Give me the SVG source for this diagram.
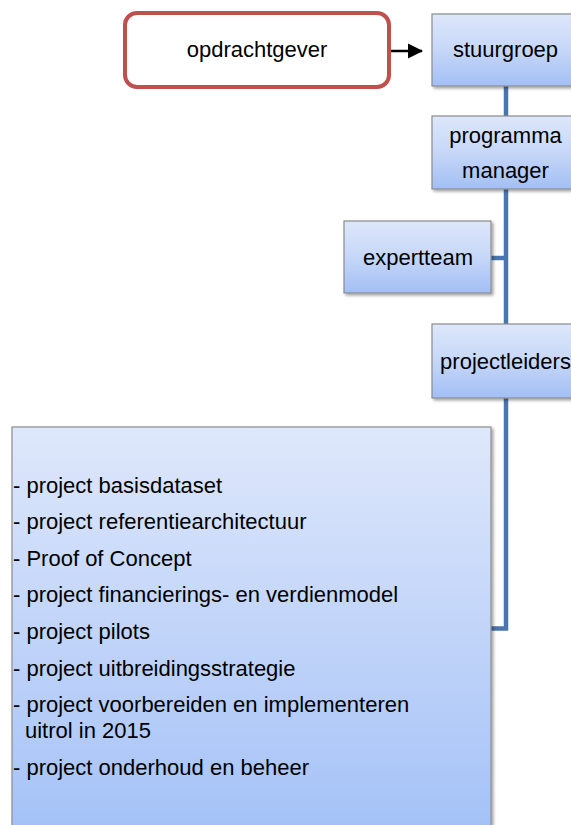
<svg xmlns="http://www.w3.org/2000/svg" width="571" height="825" viewBox="0 0 571 825">
<style>
text{font-family:"Liberation Sans",Arial,sans-serif;font-size:22px;fill:#000}
.c{text-anchor:middle}
.box{fill:url(#g);stroke:#8c8c8c;stroke-width:1.2;filter:url(#sh)}
.big{fill:url(#g2);stroke:#8c8c8c;stroke-width:1.2;filter:url(#sh)}
.con{fill:none;stroke:#4a76ad;stroke-width:4.5}
</style>
<defs>
<linearGradient id="g" x1="0" y1="0" x2="0" y2="1">
<stop offset="0" stop-color="#dde7fb"/>
<stop offset="0.5" stop-color="#c6d7f8"/>
<stop offset="1" stop-color="#a2bff5"/>
</linearGradient>
<linearGradient id="g2" gradientUnits="userSpaceOnUse" x1="0" y1="427" x2="0" y2="825">
<stop offset="0" stop-color="#dfe8fb"/>
<stop offset="1" stop-color="#a5c2f7"/>
</linearGradient>
<filter id="sh" x="-10%" y="-10%" width="130%" height="130%">
<feGaussianBlur in="SourceAlpha" stdDeviation="1.5"/>
<feOffset dx="2" dy="2" result="b"/>
<feComponentTransfer><feFuncA type="linear" slope="0.35"/></feComponentTransfer>
<feMerge><feMergeNode/><feMergeNode in="SourceGraphic"/></feMerge>
</filter>
<marker id="ah" markerWidth="16" markerHeight="16" refX="14" refY="8" orient="auto" markerUnits="userSpaceOnUse">
<path d="M0,0.5 L15,8 L0,15.5 z" fill="#000"/>
</marker>
</defs>
<g id="connectors">
<path class="con" d="M506,86 V628.5 H491"/>
<path class="con" d="M491,258 H506"/>
<line x1="391" y1="51" x2="422" y2="51" stroke="#000" stroke-width="2.5" marker-end="url(#ah)"/>
</g>
<g id="opdrachtgever">
<rect x="125" y="13" width="264" height="74" rx="12" ry="12" fill="#fff" stroke="#c0504d" stroke-width="4"/>
<text class="c" x="257" y="57">opdrachtgever</text>
</g>
<g id="stuurgroep">
<rect class="box" x="432" y="14" width="150" height="72"/>
<text class="c" x="505.5" y="57">stuurgroep</text>
</g>
<g id="programmamanager">
<rect class="box" x="432" y="116" width="150" height="73"/>
<text class="c" x="505.5" y="143">programma</text>
<text class="c" x="505.5" y="178">manager</text>
</g>
<g id="expertteam">
<rect class="box" x="344" y="221" width="147" height="72"/>
<text class="c" x="418" y="265">expertteam</text>
</g>
<g id="projectleiders">
<rect class="box" x="432" y="324" width="150" height="74"/>
<text class="c" x="505.5" y="369">projectleiders</text>
</g>
<g id="projecten">
<rect class="big" x="12" y="427" width="479" height="420"/>
<text x="13" y="493">- project basisdataset</text>
<text x="13" y="529">- project referentiearchitectuur</text>
<text x="13" y="566">- Proof of Concept</text>
<text x="13" y="602">- project financierings- en verdienmodel</text>
<text x="13" y="639">- project pilots</text>
<text x="13" y="676">- project uitbreidingsstrategie</text>
<text x="13" y="712">- project voorbereiden en implementeren</text>
<text x="25" y="738">uitrol in 2015</text>
<text x="13" y="775">- project onderhoud en beheer</text>
</g>
</svg>
